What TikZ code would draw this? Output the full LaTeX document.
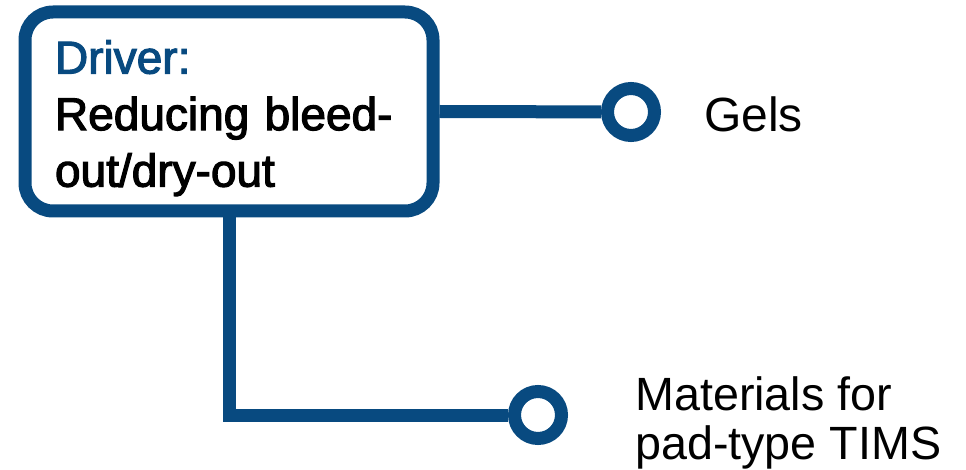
\documentclass[tikz,border=0pt]{standalone}
\usepackage{fontspec}
\setmainfont{Liberation Sans}
\newfontfamily\medfont{Liberation Sans}[BoldFont={Liberation Sans}, BoldFeatures={FakeBold=2.5}]
\definecolor{drvblue}{RGB}{8,74,128}

\begin{document}
\begin{tikzpicture}[x=0.75pt, y=-0.75pt,
        link/.style={draw=drvblue, line width=9.75pt},
        drvbox/.style={rectangle, rounded corners=21pt, draw=drvblue, line width=9.75pt, fill=white,
            text width=261pt, inner xsep=22.5pt, inner ysep=0pt, minimum height=149.25pt, align=left,
            font=\medfont\bfseries\fontsize{34.5}{42.4}\selectfont},
        endpt/.style={circle, draw=drvblue, line width=9.75pt, fill=white, minimum size=35.25pt, inner sep=0pt},
        lbl/.style={inner sep=0pt, align=left}]
        \useasboundingbox (0,0) rectangle (966,470);

        % Driver box
        \node[drvbox] (drv) at (229,111.5) {\rule{0pt}{35pt}\textcolor{drvblue}{Driver:}\\Reducing bleed-\\out/dry-out};

        % End points
        \node[endpt] (gels) at (631,112) {};
        \node[endpt] (pad) at (538,415) {};

        % Connect box to end points
        \draw[link] (drv.east) -- (gels);
        \draw[link] (drv.south) |- (pad);

        % Labels
        \node[lbl, anchor=base west, font=\fontsize{36}{42}\selectfont] (gelslbl) at (704,132) {Gels};
        \node[lbl, anchor=north west, font=\fontsize{35}{37}\selectfont] (padlbl) at (635,376) {Materials for\\pad-type TIMS};
    \end{tikzpicture}
\end{document}
